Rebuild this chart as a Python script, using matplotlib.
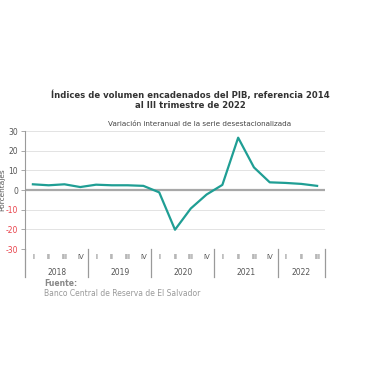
import numpy as np
import matplotlib.pyplot as plt
from matplotlib.transforms import blended_transform_factory

# Quarterly data, 2018Q1 - 2022Q3
years = ["2018", "2019", "2020", "2021", "2022"]
quarters_per_year = [4, 4, 4, 4, 3]
quarter_labels = ["I", "II", "III", "IV"]
values = [2.9, 2.4, 2.9, 1.5,
          2.7, 2.4, 2.4, 2.1,
          -1.2, -20.2, -9.4, -2.3,
          2.6, 26.6, 11.5, 3.9,
          3.6, 3.1, 2.1]
yticks = [-30, -20, -10, 0, 10, 20, 30]

line_color = "#1f9e94"
grid_color = "#e3e3e3"
axis_color = "#9a9a9a"
text_color = "#555555"

fig = plt.figure(figsize=(3.8, 3.8), dpi=100)
fig.patch.set_facecolor("white")
ax = fig.add_axes([25 / 380, 1 - 249 / 380, 300 / 380, 118 / 380])

x = np.arange(len(values))
ax.plot(x, values, color=line_color, lw=1.6, zorder=3)

ax.set_xlim(-0.5, len(values) - 0.5)
ax.set_ylim(-30, 30)
ax.set_yticks(yticks)
ax.set_yticklabels([str(t) for t in yticks], fontsize=5.5)
for lab, t in zip(ax.get_yticklabels(), yticks):
    lab.set_color("#e8414a" if t < 0 else text_color)
ax.tick_params(axis="y", length=3, width=0.6, color=axis_color, pad=2)
ax.set_xticks([])

for t in yticks:
    if t != 0:
        ax.axhline(t, color=grid_color, lw=0.7, zorder=1)
ax.axhline(0, color="#a8a8a8", lw=1.6, zorder=2)

for side in ["top", "right", "bottom"]:
    ax.spines[side].set_visible(False)
ax.spines["left"].set_color(axis_color)
ax.spines["left"].set_linewidth(0.8)

ax.set_ylabel("Porcentajes", fontsize=5.3, color=text_color, zorder=0)
ax.yaxis.set_label_coords(-0.066, 0.5)

# category axis: quarters and years
trans = blended_transform_factory(ax.transData, ax.transAxes)
start = 0
bounds = [-0.5]
for yr, n in zip(years, quarters_per_year):
    for q in range(n):
        ax.text(start + q, -0.07, quarter_labels[q], transform=trans,
                ha="center", va="center", fontsize=5, color=text_color)
    ax.text(start + 1.5 if n == 4 else start + 1, -0.195, yr, transform=trans,
            ha="center", va="center", fontsize=5.5, color=text_color)
    start += n
    bounds.append(start - 0.5)
for b in bounds:
    ax.plot([b, b], [0, -0.24], transform=trans, color=axis_color,
            lw=0.9, clip_on=False)

fig.text(0.5, 1 - 95 / 380, "Índices de volumen encadenados del PIB, referencia 2014",
         ha="center", va="center", fontsize=6.1, fontweight="bold", color="#333333")
fig.text(0.5, 1 - 105 / 380, "al III trimestre de 2022",
         ha="center", va="center", fontsize=6.1, fontweight="bold", color="#333333")
fig.text(0.525, 1 - 124 / 380, "Variación interanual de la serie desestacionalizada",
         ha="center", va="center", fontsize=5.2, color="#444444")

fig.text(44 / 380, 1 - 283 / 380, "Fuente:", ha="left", va="center",
         fontsize=5.5, fontweight="bold", color="#888888")
fig.text(44 / 380, 1 - 294 / 380, "Banco Central de Reserva de El Salvador",
         ha="left", va="center", fontsize=5.5, color="#999999")

fig.savefig("out.png", dpi=100)
